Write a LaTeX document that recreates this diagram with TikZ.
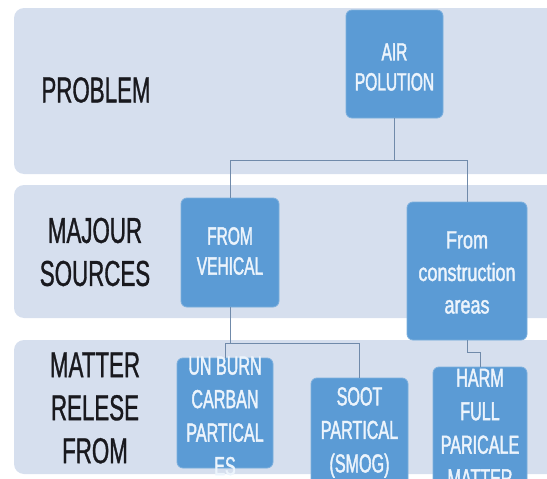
\documentclass[tikz,border=0pt]{standalone}
\usepackage{fontspec}
\usepackage{tikz}
\newfontfamily\condsans[FakeStretch=0.62, FakeBold=0.9]{Liberation Sans}
\newfontfamily\condbold[FakeStretch=0.62, FakeBold=1.6]{Liberation Sans}
\newfontfamily\condwide[FakeStretch=0.72, FakeBold=1.6]{Liberation Sans}
\definecolor{bandgray}{RGB}{214,223,238}
\definecolor{boxblue}{RGB}{91,155,213}
\definecolor{boxtext}{RGB}{236,244,252}
\definecolor{linkgray}{RGB}{112,138,170}
\definecolor{labelblack}{RGB}{25,25,30}

\begin{document}
\begin{tikzpicture}[x=1pt, y=-1pt,
    band/.style={fill=bandgray, rounded corners=10pt},
    rowlabel/.style={text=labelblack, align=center, inner sep=0pt, font=\condsans\fontsize{36}{43}\selectfont},
    block/.style={fill=boxblue, draw=boxblue!80!white, line width=0.8pt, rounded corners=6pt, inner sep=0pt},
    toptext/.style={text=boxtext, align=center, inner sep=0pt, font=\condbold\fontsize{25}{30}\selectfont},
    lowtext/.style={text=boxtext, align=center, inner sep=0pt, font=\condbold\fontsize{26}{33.5}\selectfont},
    link/.style={draw=linkgray, line width=1pt}]
        \useasboundingbox (0,0) rectangle (547,479);
        \clip (0,0) rectangle (547,479);
        % Bands
        \fill[band] (14,8) rectangle (580,174);
        \fill[band] (14,185) rectangle (580,318);
        \fill[band] (14,340) rectangle (580,474);
        % Row labels
        \node[rowlabel] (problem) at (96,90) {PROBLEM};
        \node[rowlabel] (sources) at (95,252) {MAJOUR\\SOURCES};
        \node[rowlabel] (matter) at (95,408) {MATTER\\RELESE\\FROM};
        % Blocks
        \node[block, minimum width=97pt, minimum height=108pt] (air) at (394.5,64) {};
        \node[block, minimum width=98pt, minimum height=109pt] (vehicle) at (230,252.5) {};
        \node[block, minimum width=120pt, minimum height=138pt] (site) at (467,271) {};
        \node[block, minimum width=96pt, minimum height=110pt] (unburn) at (225,413) {};
        \node[block, minimum width=97pt, minimum height=110pt] (soot) at (359.5,433) {};
        \node[block, minimum width=94pt, minimum height=122pt] (harm) at (480,428) {};
        % Block texts
        \node[toptext] (airtxt) at (394.5,67) {AIR\\POLUTION};
        \node[toptext] (vehicletxt) at (230,251) {FROM\\VEHICAL};
        \node[toptext, font=\condwide\fontsize{25}{32.5}\selectfont] (sitetxt) at (467,272.5) {From\\construction\\areas};
        \node[lowtext] (unburntxt) at (225,416) {UN BURN\\CARBAN\\PARTICAL\\ES};
        \node[lowtext] (soottxt) at (359.5,432.5) {SOOT\\PARTICAL\\(SMOG)};
        \node[lowtext] (harmtxt) at (480,428) {HARM\\FULL\\PARICALE\\MATTER};
        % Links
        \coordinate (split1) at (394.5,160);
        \coordinate (split2) at (230,343);
        \coordinate (split3) at (467,352);
        \draw[link] (air.south) -- (split1);
        \draw[link] (split1) -| (vehicle.north);
        \draw[link] (split1) -| (site.north);
        \draw[link] (vehicle.south) -- (split2);
        \draw[link] (split2) -| (unburn.north);
        \draw[link] (split2) -| (soot.north);
        \draw[link] (site.south) -- (split3);
        \draw[link] (split3) -| (harm.north);
    \end{tikzpicture}
\end{document}
